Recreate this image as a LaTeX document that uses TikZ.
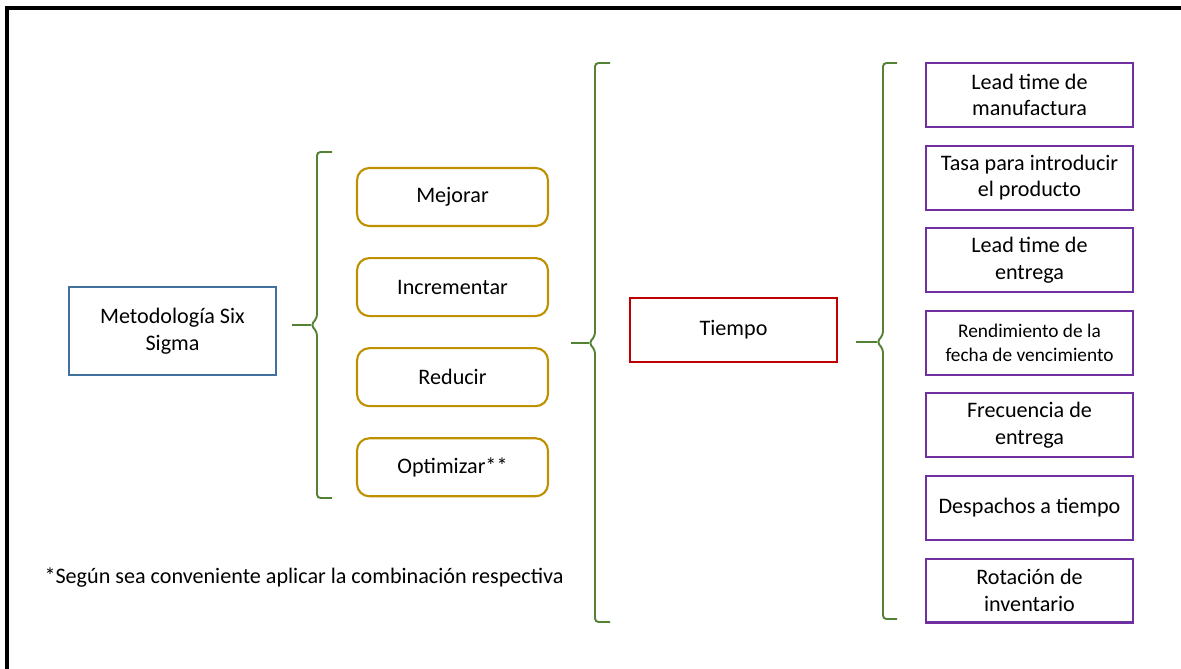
\documentclass[tikz,border=0pt]{standalone}
\usepackage{fontspec}
\setmainfont{Carlito}
\usetikzlibrary{positioning}
\definecolor{azul}{HTML}{41719C}
\definecolor{dorado}{HTML}{BF9000}
\definecolor{rojo}{HTML}{C00000}
\definecolor{morado}{HTML}{7030A0}
\definecolor{verde}{HTML}{548235}
\begin{document}
\begin{tikzpicture}[x=0.02cm, y=-0.02cm, font=\fontsize{12.6}{15.2}\selectfont,
    metodo/.style={draw=azul, line width=1.2pt, minimum width=4.14cm, minimum height=1.76cm, align=center},
    accion/.style={draw=dorado, line width=1.2pt, rounded corners=7pt, minimum width=3.82cm, minimum height=1.16cm},
    tema/.style={draw=rojo, line width=1.2pt, minimum width=4.14cm, minimum height=1.28cm},
    medida/.style={draw=morado, line width=1.2pt, minimum width=4.14cm, minimum height=1.28cm, align=center},
    llave/.style={draw=verde, line width=1.1pt, rounded corners=2pt}]
    \useasboundingbox (0,0) rectangle (1181,669);
    % marco
    \draw[line width=2.2pt] (7,669) -- (7,8) -- (1181,8);
    % nodos
    \node[metodo] (metodo) at (172.5,331) {Metodología Six\\Sigma};
    \node[accion] (mejorar) at (452.5,197) {Mejorar};
    \node[accion, below=0.6cm of mejorar] (incrementar) {Incrementar};
    \node[accion, below=0.6cm of incrementar] (reducir) {Reducir};
    \node[accion, below=0.6cm of reducir] (optimizar) {Optimizar**};
    \node[tema] (tiempo) at (733.5,330) {Tiempo};
    \node[medida] (leadman) at (1029.5,95) {Lead time de\\manufactura};
    \node[medida, below=0.33cm of leadman] (tasa) {Tasa para introducir\\el producto};
    \node[medida, below=0.33cm of tasa] (leadent) {Lead time de\\entrega};
    \node[medida, below=0.33cm of leadent, font=\fontsize{11}{13.5}\selectfont] (rendimiento) {Rendimiento de la\\fecha de vencimiento};
    \node[medida, below=0.33cm of rendimiento] (frecuencia) {Frecuencia de\\entrega};
    \node[medida, below=0.33cm of frecuencia] (despachos) {Despachos a tiempo};
    \node[medida, below=0.33cm of despachos] (rotacion) {Rotación de\\inventario};
    \node (nota) at (304,578) {*Según sea conveniente aplicar la combinación respectiva};
    % llaves
    \coordinate (puntaA) at (311,325);
    \coordinate (puntaB) at (589,343);
    \coordinate (puntaC) at (877,342);
    \draw[llave] (332,152) -- (317,152) -- (317,318) -- (puntaA) -- (317,332) -- (317,498) -- (332,498);
    \draw[llave] (610,63) -- (595,63) -- (595,336) -- (puntaB) -- (595,350) -- (595,622) -- (610,622);
    \draw[llave] (897,63) -- (883,63) -- (883,335) -- (puntaC) -- (883,349) -- (883,619) -- (897,619);
    % conexiones
    \draw[llave, shorten <=0.3cm] (metodo.east |- puntaA) -- (puntaA);
    \draw[llave, shorten <=0.44cm] (reducir.east |- puntaB) -- (puntaB);
    \draw[llave, shorten <=0.36cm] (tiempo.east |- puntaC) -- (puntaC);
\end{tikzpicture}
\end{document}
